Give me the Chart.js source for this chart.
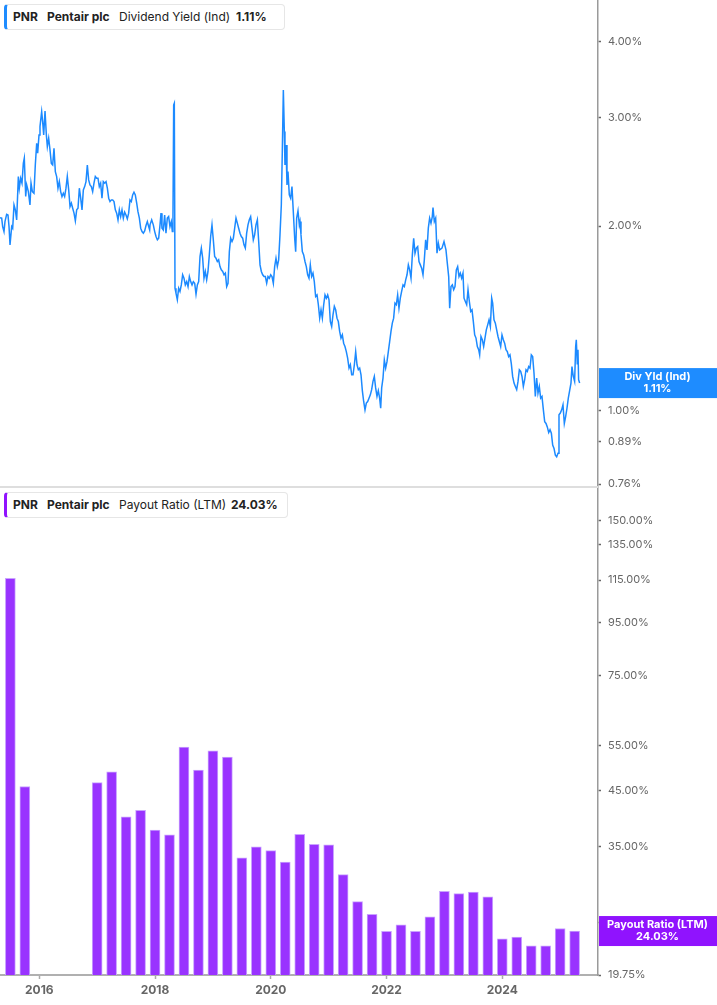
<!DOCTYPE html>
<html lang="en">
<head>
    <meta charset="UTF-8">
    <title>PNR - Dividend Yield y Payout Ratio</title>
    <script src="https://cdn.jsdelivr.net/npm/chart.js"></script>
    <style>
        html, body { margin: 0; padding: 0; background: #fff; }
        body { width: 717px; height: 1005px; position: relative; overflow: hidden; font-family: Inter, "Noto Sans", sans-serif; }
        canvas { position: absolute; left: 0; display: block; }
        #yieldChart { top: 0; }
        #payoutChart { top: 488px; }
        .legend { position: absolute; left: 4px; height: 24px; background: #fff; border: 1px solid #e6e6e6; border-radius: 4px; z-index: 2; }
        .legend span { position: absolute; top: 4px; font-size: 12px; line-height: 16px; color: #222; white-space: nowrap; }
        .legend .b { font-weight: bold; }
        #legendTop { top: 4px; width: 277px; border-left: 3px solid #1e8cff; }
        #legendBottom { top: 492px; width: 280px; border-left: 3px solid #9013fe; }
    </style>
</head>
<body>
    <canvas id="yieldChart" width="717" height="488"></canvas>
    <canvas id="payoutChart" width="717" height="517"></canvas>

    <div class="legend" id="legendTop">
        <span class="b" style="left:6px">PNR</span>
        <span class="b" style="left:40px">Pentair plc</span>
        <span style="left:112px">Dividend Yield (Ind)</span>
        <span class="b" style="left:229px">1.11%</span>
    </div>
    <div class="legend" id="legendBottom">
        <span class="b" style="left:6px">PNR</span>
        <span class="b" style="left:40px">Pentair plc</span>
        <span style="left:112px">Payout Ratio (LTM)</span>
        <span class="b" style="left:224px">24.03%</span>
    </div>

    <script>
    // ---- datos ----
    const yearTicks = [2016, 2018, 2020, 2022, 2024];
    const yieldTicks = [0.76, 0.89, 1.00, 2.00, 3.00, 4.00];
    const payoutTicks = [19.75, 25, 35, 45, 55, 75, 95, 115, 135, 150];

    // Dividend Yield (Ind), % (fecha en años decimales)
    const yieldDates = [
        2015.321, 2015.350, 2015.367, 2015.390, 2015.407, 2015.436, 2015.459, 2015.477, 2015.494, 2015.523,
        2015.540, 2015.563, 2015.586, 2015.609, 2015.638, 2015.655, 2015.678, 2015.701, 2015.724, 2015.741,
        2015.765, 2015.782, 2015.811, 2015.839, 2015.857, 2015.880, 2015.908, 2015.931, 2015.955, 2015.972,
        2015.995, 2016.012, 2016.041, 2016.058, 2016.076, 2016.099, 2016.122, 2016.139, 2016.162, 2016.185,
        2016.208, 2016.231, 2016.254, 2016.277, 2016.300, 2016.323, 2016.346, 2016.369, 2016.392, 2016.415,
        2016.438, 2016.461, 2016.484, 2016.508, 2016.531, 2016.554, 2016.577, 2016.600, 2016.623, 2016.646,
        2016.669, 2016.692, 2016.715, 2016.738, 2016.761, 2016.784, 2016.807, 2016.830, 2016.853, 2016.876,
        2016.899, 2016.922, 2016.945, 2016.968, 2016.991, 2017.014, 2017.037, 2017.060, 2017.083, 2017.106,
        2017.130, 2017.153, 2017.176, 2017.199, 2017.222, 2017.245, 2017.268, 2017.291, 2017.314, 2017.337,
        2017.360, 2017.383, 2017.406, 2017.429, 2017.452, 2017.475, 2017.498, 2017.521, 2017.544, 2017.567,
        2017.590, 2017.613, 2017.636, 2017.659, 2017.683, 2017.705, 2017.729, 2017.752, 2017.775, 2017.798,
        2017.821, 2017.844, 2017.867, 2017.890, 2017.907,
        2017.913, 2017.942, 2017.970, 2017.994, 2018.017, 2018.040, 2018.063, 2018.086, 2018.103, 2018.120,
        2018.143, 2018.166, 2018.189, 2018.212, 2018.235, 2018.258, 2018.281, 2018.299, 2018.310, 2018.322,
        2018.333, 2018.345, 2018.362, 2018.385, 2018.408, 2018.431, 2018.454, 2018.477, 2018.500, 2018.523,
        2018.547, 2018.570, 2018.593, 2018.616, 2018.639, 2018.662, 2018.685, 2018.708, 2018.731, 2018.754,
        2018.777, 2018.800, 2018.823, 2018.846, 2018.869, 2018.892, 2018.915, 2018.938, 2018.961, 2018.984,
        2019.007, 2019.030, 2019.053, 2019.076, 2019.099, 2019.122, 2019.145, 2019.169, 2019.192, 2019.215,
        2019.238, 2019.261, 2019.284, 2019.307, 2019.330, 2019.353, 2019.376, 2019.399, 2019.422, 2019.445,
        2019.468, 2019.491, 2019.514, 2019.537, 2019.560, 2019.583, 2019.606, 2019.629, 2019.652, 2019.675,
        2019.698, 2019.721, 2019.744, 2019.768, 2019.791, 2019.814, 2019.837, 2019.860, 2019.883, 2019.906,
        2019.929, 2019.952, 2019.975, 2019.998, 2020.021, 2020.044, 2020.067, 2020.090, 2020.113, 2020.136,
        2020.159, 2020.182, 2020.199, 2020.217, 2020.234, 2020.245, 2020.263, 2020.280, 2020.297, 2020.320,
        2020.343, 2020.366, 2020.389, 2020.413, 2020.430, 2020.447, 2020.470, 2020.493,
        2020.505, 2020.522, 2020.545, 2020.568, 2020.591, 2020.614, 2020.637, 2020.660, 2020.683, 2020.706,
        2020.729, 2020.752, 2020.775, 2020.799, 2020.822, 2020.845, 2020.868, 2020.891, 2020.914, 2020.937,
        2020.960, 2020.983, 2021.006, 2021.029, 2021.052, 2021.075, 2021.098, 2021.121, 2021.144, 2021.167,
        2021.190, 2021.213, 2021.236, 2021.259, 2021.282, 2021.305, 2021.328, 2021.352, 2021.375, 2021.398,
        2021.421, 2021.444, 2021.467, 2021.490, 2021.513, 2021.536, 2021.559, 2021.582, 2021.605, 2021.628,
        2021.651, 2021.674, 2021.697, 2021.720, 2021.743, 2021.766, 2021.789, 2021.812, 2021.835, 2021.858,
        2021.881, 2021.899, 2021.916, 2021.939, 2021.962, 2021.985, 2022.008, 2022.031, 2022.054, 2022.077,
        2022.100, 2022.123, 2022.146, 2022.169, 2022.192, 2022.215, 2022.238, 2022.261, 2022.285, 2022.308,
        2022.331, 2022.354, 2022.377, 2022.400, 2022.423, 2022.446, 2022.469, 2022.492, 2022.515, 2022.538,
        2022.561, 2022.584, 2022.607, 2022.630, 2022.653, 2022.676, 2022.699, 2022.722, 2022.745, 2022.768,
        2022.791, 2022.803, 2022.826, 2022.849, 2022.872, 2022.895, 2022.918,
        2022.958, 2022.993, 2023.027, 2023.050, 2023.074, 2023.091, 2023.114, 2023.137, 2023.160, 2023.183,
        2023.206, 2023.229, 2023.252, 2023.275, 2023.298, 2023.321, 2023.339, 2023.362, 2023.385, 2023.408,
        2023.431, 2023.454, 2023.477, 2023.500, 2023.523, 2023.546, 2023.569, 2023.592, 2023.609, 2023.632,
        2023.655, 2023.678, 2023.701, 2023.724, 2023.748, 2023.771, 2023.794, 2023.817, 2023.834, 2023.857,
        2023.880, 2023.903, 2023.926, 2023.949, 2023.972, 2023.995, 2024.018, 2024.041, 2024.064, 2024.087,
        2024.110, 2024.133, 2024.156, 2024.179, 2024.203, 2024.226, 2024.249, 2024.272, 2024.295, 2024.318,
        2024.341, 2024.364, 2024.387, 2024.410, 2024.433, 2024.456, 2024.479, 2024.502, 2024.525, 2024.548,
        2024.571, 2024.594, 2024.617, 2024.640, 2024.663, 2024.686, 2024.710, 2024.733, 2024.756, 2024.779,
        2024.802, 2024.825, 2024.848, 2024.871, 2024.894, 2024.917, 2024.940, 2024.963, 2024.980, 2025.003,
        2025.026, 2025.049, 2025.072, 2025.095, 2025.118, 2025.141, 2025.164, 2025.187, 2025.204, 2025.227,
        2025.250, 2025.268, 2025.279, 2025.296, 2025.308, 2025.319, 2025.337
    ];
    const yieldValues = [
        2.064, 2.060, 1.996, 1.959, 2.034, 2.090, 2.085, 1.996, 1.864, 1.996,
        1.984, 2.165, 2.125, 2.047, 2.408, 2.305, 2.393, 2.349, 2.529, 2.579,
        2.234, 2.334, 2.276, 2.165, 2.349, 2.276, 2.262, 2.515, 2.728, 2.628,
        2.814, 2.904, 3.071, 2.958, 2.814, 3.079, 2.814, 2.694, 2.780, 2.661,
        2.529, 2.515, 2.678, 2.453, 2.408, 2.305, 2.363, 2.276, 2.234, 2.262,
        2.234, 2.305, 2.408, 2.290, 2.151, 2.179, 2.138, 2.099, 2.039, 2.125,
        2.138, 2.305, 2.220, 2.125, 2.290, 2.319, 2.363, 2.515, 2.378, 2.334,
        2.319, 2.276, 2.349, 2.408, 2.393, 2.393, 2.319, 2.349, 2.220, 2.363,
        2.349, 2.363, 2.305, 2.220, 2.192, 2.206, 2.206, 2.192, 2.125, 2.099,
        2.047, 2.125, 2.072, 2.125, 2.060, 2.107, 2.085, 2.055, 2.099, 2.206,
        2.192, 2.248, 2.271, 2.248, 2.179, 2.111, 2.060, 1.984, 1.959, 1.947,
        1.964, 2.004, 2.034, 1.996, 1.971,
        2.009, 2.047, 2.009, 1.959, 1.923, 1.899, 1.911, 2.009, 2.099, 1.984,
        1.971, 2.085, 1.947, 2.060, 2.072, 1.996, 2.034, 1.959, 2.085, 3.149,
        3.169, 1.584, 1.555, 1.517, 1.584, 1.565, 1.604, 1.666, 1.645, 1.604,
        1.624, 1.594, 1.655, 1.624, 1.604, 1.624, 1.614, 1.549, 1.604, 1.624,
        1.784, 1.841, 1.773, 1.645, 1.687, 1.635, 1.687, 1.795, 1.923, 2.009,
        1.899, 1.784, 1.773, 1.751, 1.762, 1.718, 1.697, 1.687, 1.666, 1.676,
        1.594, 1.614, 1.817, 1.911, 1.887, 1.911, 1.984, 2.060, 2.022, 1.984,
        1.947, 1.923, 1.911, 1.864, 1.841, 1.947, 2.009, 2.047, 2.072, 1.984,
        1.899, 1.935, 2.009, 2.047, 1.887, 1.729, 1.687, 1.666, 1.655, 1.655,
        1.614, 1.655, 1.645, 1.666, 1.655, 1.614, 1.718, 1.773, 1.718, 1.762,
        1.935, 2.165, 2.644, 3.331, 2.850, 2.515, 2.711, 2.334, 2.453, 2.248,
        2.220, 2.319, 2.111, 1.911, 1.817, 2.060, 2.117, 2.009,
        2.034, 1.935, 1.817, 1.795, 1.751, 1.718, 1.666, 1.645, 1.729, 1.655,
        1.676, 1.624, 1.536, 1.545, 1.489, 1.416, 1.461, 1.416, 1.489, 1.545,
        1.526, 1.545, 1.517, 1.398, 1.372, 1.434, 1.480, 1.461, 1.416, 1.398,
        1.347, 1.314, 1.330, 1.289, 1.273, 1.249, 1.219, 1.174, 1.189, 1.145,
        1.145, 1.189, 1.249, 1.189, 1.167, 1.174, 1.145, 1.079, 1.036, 1.004,
        1.030, 1.036, 1.049, 1.062, 1.083, 1.117, 1.138, 1.090, 1.056, 1.079,
        1.049, 1.010, 1.090, 1.131, 1.211, 1.174, 1.203, 1.249, 1.297, 1.347,
        1.390, 1.416, 1.498, 1.489, 1.545, 1.470, 1.526, 1.565, 1.604, 1.594,
        1.635, 1.666, 1.729, 1.697, 1.645, 1.795, 1.911, 1.806, 1.841, 1.852,
        1.751, 1.729, 1.708, 1.666, 1.762, 1.899, 1.829, 1.984, 2.060, 2.022,
        2.072, 2.143, 2.034, 2.060, 1.806, 1.876, 1.829,
        1.841, 1.887, 1.829, 1.740, 1.655, 1.470, 1.594, 1.604, 1.575, 1.594,
        1.697, 1.718, 1.655, 1.676, 1.645, 1.676, 1.526, 1.507, 1.489, 1.575,
        1.507, 1.452, 1.461, 1.398, 1.330, 1.314, 1.273, 1.258, 1.234, 1.322,
        1.306, 1.273, 1.314, 1.355, 1.381, 1.407, 1.372, 1.526, 1.498, 1.407,
        1.390, 1.355, 1.322, 1.297, 1.273, 1.330, 1.306, 1.289, 1.258, 1.249,
        1.226, 1.234, 1.194, 1.138, 1.110, 1.096, 1.083, 1.117, 1.167, 1.160,
        1.138, 1.096, 1.124, 1.167, 1.160, 1.181, 1.174, 1.234, 1.226, 1.153,
        1.056, 1.131, 1.069, 1.096, 1.049, 1.056, 1.004, 0.960, 0.954, 0.941,
        0.922, 0.932, 0.920, 0.880, 0.869, 0.847, 0.842, 0.853, 0.986, 0.992,
        1.004, 1.023, 0.954, 0.979, 1.010, 1.049, 1.079, 1.110, 1.181, 1.138,
        1.117, 1.273, 1.306, 1.194, 1.258, 1.124, 1.110
    ];

    // Payout Ratio (LTM), % trimestral
    const payoutDates = [
        2015.5, 2015.75,
        2017, 2017.25, 2017.5, 2017.75, 2018, 2018.25, 2018.5, 2018.75,
        2019, 2019.25, 2019.5, 2019.75, 2020, 2020.25, 2020.5, 2020.75,
        2021, 2021.25, 2021.5, 2021.75, 2022, 2022.25, 2022.5, 2022.75,
        2023, 2023.25, 2023.5, 2023.75, 2024, 2024.25, 2024.5, 2024.75,
        2025, 2025.25
    ];
    const payoutValues = [
        116.0, 45.8,
        46.6, 48.9, 40.0, 41.2, 37.7, 36.9, 54.6, 49.3,
        53.7, 52.2, 33.3, 35.0, 34.4, 32.7, 37.0, 35.4,
        35.3, 30.9, 27.4, 25.9, 24.0, 24.7, 24.0, 25.6,
        28.7, 28.4, 28.6, 28.0, 23.2, 23.4, 22.5, 22.5,
        24.3, 24.03
    ];

    const xMin = 2015.321;
    const xMax = 2025.654;

    Chart.defaults.font.family = 'Inter, "Noto Sans", sans-serif';

    // etiqueta de valor sobre el eje derecho + línea de separación
    const axisBadge = {
        id: 'axisBadge',
        afterDraw(chart, args, opts) {
            const ctx = chart.ctx;
            const y = chart.scales.y;
            const area = chart.chartArea;
            ctx.save();
            if (opts.separator) {
                ctx.strokeStyle = '#dedede';
                ctx.lineWidth = 2;
                ctx.beginPath();
                ctx.moveTo(0, area.bottom - 1);
                ctx.lineTo(area.right, area.bottom - 1);
                ctx.stroke();
            }
            const py = y.getPixelForValue(opts.value);
            ctx.fillStyle = opts.color;
            ctx.fillRect(y.left + 1, py - 15, chart.width - y.left - 1, 30);
            ctx.fillStyle = '#fff';
            ctx.font = 'bold 11px Inter, "Noto Sans", sans-serif';
            ctx.textAlign = 'center';
            ctx.textBaseline = 'middle';
            const cx = (y.left + chart.width) / 2;
            ctx.fillText(opts.title, cx, py - 6);
            ctx.fillText(opts.value.toFixed(2) + '%', cx, py + 6);
            ctx.restore();
        }
    };

    function rightLogAxis(min, max, tickList) {
        return {
            type: 'logarithmic',
            position: 'right',
            min: min,
            max: max,
            bounds: 'data',
            afterBuildTicks: s => {
                s.ticks = tickList.map(v => ({ value: v }));
                s.min = min;
                s.max = max;
            },
            afterFit: s => { s.width = 119; s.paddingTop = 0; s.paddingBottom = 0; },
            ticks: {
                autoSkip: false,
                color: '#666',
                font: { size: 11 },
                padding: 7,
                callback: v => Number(v).toFixed(2) + '%'
            },
            grid: { drawOnChartArea: false, drawTicks: true, tickLength: 3, tickColor: '#666', tickWidth: 1.5 },
            border: { display: true, color: '#9a9a9a', width: 1.5 }
        };
    }

    new Chart(document.getElementById('yieldChart'), {
        type: 'line',
        data: {
            datasets: [{
                data: yieldDates.map((d, i) => ({ x: d, y: yieldValues[i] })),
                borderColor: '#1c8aff',
                borderWidth: 1.5,
                pointRadius: 0,
                tension: 0,
                fill: false
            }]
        },
        options: {
            responsive: false,
            animation: false,
            layout: { padding: 0 },
            plugins: {
                legend: { display: false },
                tooltip: { enabled: false },
                axisBadge: { value: yieldValues[yieldValues.length - 1], title: 'Div Yld (Ind)', color: '#1e8cff', separator: true }
            },
            scales: {
                x: {
                    type: 'linear',
                    min: xMin,
                    max: xMax,
                    offset: false,
                    afterFit: s => { s.height = 0; s.paddingLeft = 0; s.paddingRight = 0; },
                    ticks: { display: false },
                    grid: { display: false, drawTicks: false },
                    border: { display: false }
                },
                y: rightLogAxis(0.749, 4.668, yieldTicks)
            }
        },
        plugins: [axisBadge]
    });

    new Chart(document.getElementById('payoutChart'), {
        type: 'bar',
        data: {
            datasets: [{
                data: payoutDates.map((d, i) => ({ x: d, y: payoutValues[i] })),
                backgroundColor: '#9933ff',
                borderColor: '#c9a3ff',
                borderWidth: { top: 1, left: 1, right: 1, bottom: 0 },
                barThickness: 10
            }]
        },
        options: {
            responsive: false,
            animation: false,
            layout: { padding: 0 },
            plugins: {
                legend: { display: false },
                tooltip: { enabled: false },
                axisBadge: { value: payoutValues[payoutValues.length - 1], title: 'Payout Ratio (LTM)', color: '#9013fe' }
            },
            scales: {
                x: {
                    type: 'linear',
                    min: xMin,
                    max: xMax,
                    offset: false,
                    afterBuildTicks: s => { s.ticks = yearTicks.map(v => ({ value: v })); },
                    afterFit: s => { s.height = 30; s.paddingLeft = 0; s.paddingRight = 0; },
                    ticks: {
                        autoSkip: false,
                        maxRotation: 0,
                        color: '#666',
                        font: { size: 12, weight: 'bold' },
                        padding: 4,
                        callback: v => String(v)
                    },
                    grid: { offset: false, drawOnChartArea: false, drawTicks: true, tickLength: 4, tickColor: '#aaa', tickWidth: 1.5 },
                    border: { display: true, color: '#b0b0b0', width: 2 }
                },
                y: rightLogAxis(19.75, 173.5, payoutTicks)
            }
        },
        plugins: [axisBadge]
    });
    </script>
</body>
</html>
